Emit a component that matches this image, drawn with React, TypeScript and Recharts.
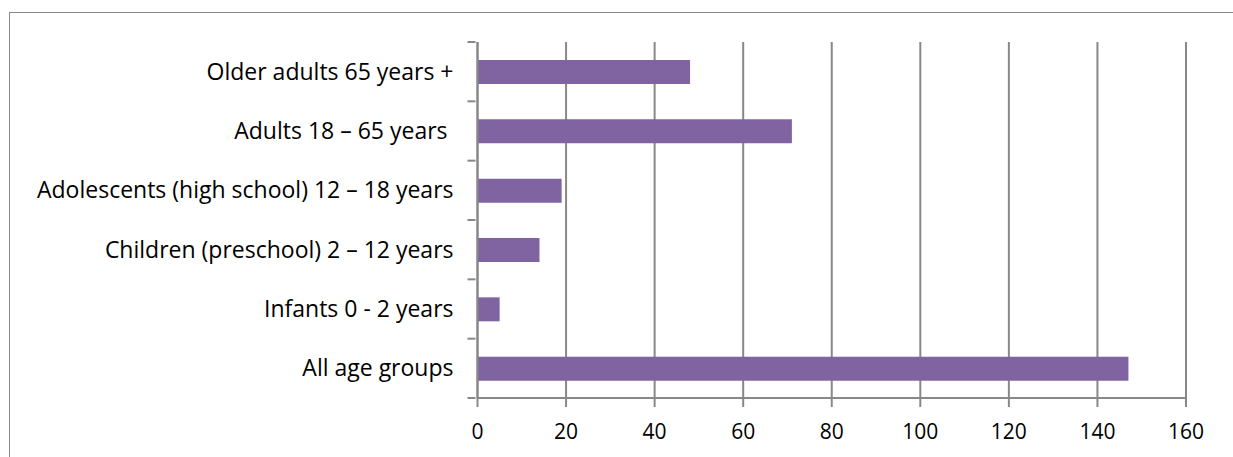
import React from "react";
import { BarChart, Bar, XAxis, YAxis, CartesianGrid } from "recharts";

const categories = [
  "Older adults 65 years +",
  "Adults 18 – 65 years ",
  "Adolescents (high school) 12 – 18 years",
  "Children (preschool) 2 – 12 years",
  "Infants 0 - 2 years",
  "All age groups",
];
const counts = [48, 71, 19, 14, 5, 147];
const xTicks = [0, 20, 40, 60, 80, 100, 120, 140, 160];

const data = categories.map((name, i) => ({ name, count: counts[i] }));

const AXIS = "#888888";
const FONT = "'Open Sans', sans-serif";
const BAND = 356 / categories.length;

// category label plus the little tick marks that sit between the bands
function CategoryTick(props: any) {
  const { x, y, payload, index } = props;
  return (
    <g>
      <line x1={x - 8} x2={x} y1={y - BAND / 2} y2={y - BAND / 2} stroke={AXIS} strokeWidth={2} />
      {index === categories.length - 1 && (
        <line x1={x - 8} x2={x} y1={y + BAND / 2} y2={y + BAND / 2} stroke={AXIS} strokeWidth={2} />
      )}
      <text x={x - 22} y={y} dy={8} textAnchor="end" fontFamily={FONT} fontSize={23} fill="#000" style={{ whiteSpace: "pre" }}>
        {payload.value}
      </text>
    </g>
  );
}

export default function App() {
  return (
    <div style={{ position: "absolute", left: 0, top: 0, width: 1233, height: 457, overflow: "hidden", background: "#fff" }}>
      <div
        style={{
          position: "absolute",
          left: 9,
          top: 12,
          width: 1400,
          height: 600,
          border: "1.5px solid #888",
          boxSizing: "border-box",
        }}
      />
      <div style={{ position: "absolute", left: 0, top: 0 }}>
        <BarChart
          width={1233}
          height={457}
          data={data}
          layout="vertical"
          margin={{ top: 42, right: 47, bottom: 0, left: 7.5 }}
          barSize={24}
        >
          <CartesianGrid horizontal={false} stroke={AXIS} strokeWidth={2} strokeDasharray="" />
          <XAxis
            type="number"
            domain={[0, 160]}
            ticks={xTicks}
            interval={0}
            height={59}
            axisLine={{ stroke: AXIS, strokeWidth: 2 }}
            tickLine={{ stroke: AXIS, strokeWidth: 2 }}
            tickSize={9}
            tickMargin={17}
            tick={{ fontFamily: FONT, fontSize: 21, fill: "#000" }}
          />
          <YAxis
            type="category"
            dataKey="name"
            width={470}
            axisLine={{ stroke: AXIS, strokeWidth: 2 }}
            tickLine={false}
            tickSize={0}
            tick={<CategoryTick />}
          />
          <Bar dataKey="count" fill="#8064A2" isAnimationActive={false} />
        </BarChart>
      </div>
    </div>
  );
}
